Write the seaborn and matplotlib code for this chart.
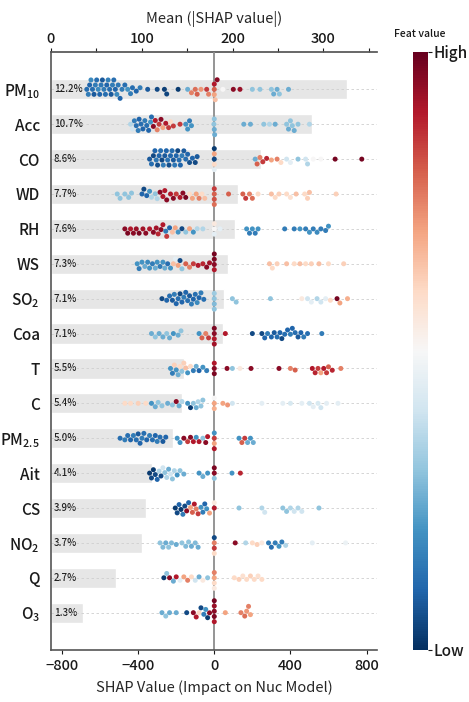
import matplotlib
matplotlib.use("Agg")
import matplotlib.pyplot as plt
import numpy as np
import pandas as pd
import seaborn as sns

# feature names (top to bottom) and their labels
features = ['PM10', 'Acc', 'CO', 'WD', 'RH', 'WS', 'SO2', 'Coa',
            'T', 'C', 'PM2.5', 'Ait', 'CS', 'NO2', 'Q', 'O3']
labels = ['PM$_{10}$', 'Acc', 'CO', 'WD', 'RH', 'WS', 'SO$_2$', 'Coa',
          'T', 'C', 'PM$_{2.5}$', 'Ait', 'CS', 'NO$_2$', 'Q', 'O$_3$']
mean_abs = [326, 287, 231, 206, 203, 195, 190, 189, 147, 144, 134, 111, 105, 100, 72, 35]
pct = ['12.2%', '10.7%', '8.6%', '7.7%', '7.6%', '7.3%', '7.1%', '7.1%',
       '5.5%', '5.4%', '5.0%', '4.1%', '3.9%', '3.7%', '2.7%', '1.3%']

# (shap value, scaled feature value)
pm10 = [(-670, .12), (-662, .15), (-655, .1), (-648, .18), (-640, .12), (-632, .08), (-625, .15),
        (-618, .12), (-610, .18), (-602, .1), (-595, .14), (-588, .08), (-580, .15), (-572, .12),
        (-565, .1), (-558, .16), (-550, .12), (-542, .08), (-535, .15), (-528, .12), (-520, .1),
        (-512, .18), (-505, .14), (-495, .1), (-485, .15), (-470, .12), (-455, .2), (-440, .15),
        (-430, .12), (-410, .1), (-390, .15), (-350, .08), (-300, .05), (-262, .03), (-250, .04),
        (-190, .02), (-140, .25), (-120, .75), (-100, .78), (-90, .8), (-70, .72), (-40, .85),
        (-30, .75), (0, .8), (0, .7), (0, .9), (5, .65), (15, .95), (45, .5), (100, .95),
        (135, .93), (200, .3), (240, .3), (300, .3), (312, .25), (330, .25), (342, .3), (390, .25)]
acc = [(-440, .35), (-430, .4), (-420, .15), (-410, .12), (-400, .15), (-395, .1), (-385, .12),
       (-375, .1), (-365, .15), (-355, .12), (-345, .1), (-335, .2), (-330, .12), (-320, .95),
       (-310, .9), (-300, .75), (-290, .85), (-280, .95), (-270, .7), (-255, .9), (-240, .85),
       (-230, .6), (-215, .85), (-180, .85), (-150, .2), (-140, .2), (-130, .15), (-120, .2),
       (0, .25), (0, .3), (2, .25), (-2, .3), (155, .25), (190, .25), (260, .3), (290, .35),
       (320, .25), (380, .3), (390, .25), (400, .3), (410, .3), (420, .25), (440, .3), (500, .35)]
co = [(-340, .08), (-330, .12), (-320, .05), (-312, .1), (-305, .14), (-298, .06), (-290, .1),
      (-282, .12), (-275, .05), (-268, .15), (-260, .08), (-252, .1), (-245, .13), (-238, .06),
      (-230, .1), (-222, .12), (-215, .08), (-208, .14), (-200, .1), (-192, .05), (-185, .12),
      (-178, .1), (-170, .15), (-160, .08), (-150, .12), (-140, .1), (-130, .06), (-115, .1),
      (-100, .05), (-90, .08), (0, .05), (0, .6), (0, .7), (0, .45), (0, .02), (215, .25),
      (225, .8), (240, .75), (255, .85), (275, .88), (300, .7), (330, .75), (350, .6), (380, .4),
      (400, .45), (440, .3), (480, .4), (490, .35), (520, .5), (560, .5), (635, .98), (775, .98)]
wd = [(-510, .3), (-495, .3), (-470, .3), (-450, .3), (-435, .3), (-380, .1), (-370, .05),
      (-355, .1), (-340, .2), (-330, .35), (-310, .3), (-300, .35), (-285, .95), (-270, .9),
      (-260, .9), (-250, .95), (-230, .9), (-215, .95), (-200, .85), (-180, .9), (-165, .95),
      (-150, .98), (-130, .6), (-115, .7), (-95, .7), (-80, .75), (-65, .6), (-50, .65), (0, .8),
      (0, .82), (0, .85), (0, .78), (75, .8), (150, .8), (165, .85), (185, .75), (200, .78),
      (230, .6), (300, .65), (320, .6), (340, .62), (380, .6), (400, .58), (430, .65), (475, .6),
      (490, .62), (500, .65), (640, .62)]
rh = [(-470, .95), (-455, .97), (-440, .9), (-425, .95), (-410, .93), (-395, .97), (-375, .92),
      (-360, .95), (-340, .9), (-320, .95), (-305, .92), (-295, .88), (-280, .95), (-270, .9),
      (-255, .15), (-250, .85), (-235, .1), (-220, .65), (-205, .7), (-190, .2), (-170, .05),
      (-150, .3), (-130, .7), (-110, .2), (-90, .35), (-60, .35), (0, .5), (0, .45), (0, .55),
      (30, .45), (170, .2), (185, .15), (200, .2), (215, .15), (230, .2), (370, .15), (420, .15),
      (450, .2), (480, .15), (500, .2), (520, .15), (540, .18), (560, .15), (585, .15), (600, .2)]
ws = [(-405, .2), (-395, .15), (-380, .2), (-365, .25), (-350, .18), (-340, .2), (-325, .15),
      (-310, .25), (-300, .2), (-285, .15), (-270, .2), (-260, .25), (-245, .12), (-230, .2),
      (-215, .65), (-205, .45), (-190, .7), (-180, .05), (-170, .3), (-150, .8), (-130, .75),
      (-110, .85), (-85, .9), (-60, .88), (-40, .95), (-25, .92), (0, .95), (0, .97), (0, .9),
      (0, .98), (290, .65), (305, .6), (330, .62), (380, .65), (420, .6), (450, .65), (480, .6),
      (510, .62), (550, .65), (600, .6), (680, .62)]
so2 = [(-275, .05), (-250, .1), (-235, .12), (-220, .08), (-210, .15), (-200, .1), (-190, .12),
       (-180, .05), (-170, .1), (-160, .15), (-150, .1), (-140, .12), (-130, .08), (-120, .15),
       (-110, .1), (-100, .12), (-90, .18), (-80, .1), (-70, .15), (-55, .12), (0, .3), (0, .28),
       (0, .32), (0, .3), (95, .3), (115, .3), (295, .3), (460, .55), (490, .4), (510, .45),
       (540, .35), (560, .4), (585, .45), (610, .6), (645, .98), (660, .7), (700, .68)]
coa = [(-330, .25), (-310, .3), (-290, .25), (-270, .25), (-250, .3), (-235, .25), (-215, .2),
       (-190, .25), (-175, .3), (-80, .2), (-65, .8), (-45, .75), (-30, .85), (0, .95), (0, .9),
       (0, .97), (0, .92), (58, .9), (200, .05), (250, .05), (265, .1), (280, .15), (300, .1),
       (315, .08), (330, .12), (345, .1), (355, .05), (370, .12), (385, .1), (400, .15), (410, .1),
       (425, .12), (440, .08), (455, .1), (470, .15), (490, .12), (565, .15)]
t = [(-230, .2), (-220, .15), (-210, .62), (-200, .2), (-190, .25), (-180, .6), (-170, .3),
     (-160, .62), (-150, .65), (-140, .2), (-125, .6), (-110, .15), (-95, .25), (-80, .1),
     (-60, .2), (-40, .15), (0, .95), (0, .97), (0, .9), (67, .95), (95, .3), (135, .55),
     (193, .95), (340, .95), (400, .75), (425, .8), (515, .9), (530, .88), (545, .85), (560, .7),
     (575, .9), (590, .85), (600, .8), (620, .88), (665, .75)]
c = [(-470, .6), (-440, .6), (-400, .62), (-360, .6), (-330, .2), (-310, .25), (-295, .3),
     (-275, .3), (-245, .25), (-220, .3), (-200, .95), (-185, .25), (-170, .35), (-140, .2),
     (-125, .02), (-110, .3), (-95, .25), (-85, .35), (-70, .3), (-60, .3), (0, .7), (0, .68),
     (0, .5), (45, .7), (70, .72), (95, .4), (250, .45), (360, .45), (400, .42), (460, .45),
     (500, .4), (520, .45), (545, .42), (560, .4), (590, .45), (650, .45)]
pm25 = [(-495, .12), (-470, .15), (-455, .12), (-440, .1), (-425, .15), (-410, .12), (-400, .08),
        (-390, .1), (-380, .15), (-370, .12), (-355, .1), (-340, .15), (-325, .12), (-310, .1),
        (-300, .15), (-285, .12), (-270, .08), (-255, .1), (-195, .2), (-180, .2), (-160, .95),
        (-140, .85), (-125, .95), (-110, .9), (-95, .2), (-80, .9), (-60, .3), (-45, .95),
        (-35, .9), (0, .85), (0, .7), (0, .2), (0, .9), (130, .2), (145, .8), (160, .85),
        (175, .25), (190, .2), (205, .25)]
ait = [(-340, .02), (-330, .05), (-320, .02), (-310, .05), (-300, .1), (-290, .35), (-280, .05),
       (-270, .4), (-260, .3), (-250, .35), (-240, .25), (-230, .4), (-220, .3), (-210, .35),
       (-195, .2), (-180, .3), (-160, .25), (-80, .2), (-60, .25), (-35, .2), (0, .95), (0, .3),
       (0, .97), (93, .2), (137, .88)]
cs = [(-205, .02), (-195, .05), (-185, .1), (-175, .02), (-165, .15), (-155, .05), (-145, .95),
      (-135, .1), (-125, .7), (-115, .8), (-105, .9), (-95, .75), (-85, .85), (-70, .2),
      (-60, .15), (-50, .1), (-40, .2), (-25, .7), (0, .9), (0, .55), (130, .3), (250, .35),
      (265, .4), (360, .3), (380, .3), (400, .35), (420, .4), (440, .35), (460, .4), (550, .3)]
no2 = [(-285, .3), (-270, .28), (-255, .25), (-240, .3), (-225, .28), (-200, .25), (-170, .3),
       (-150, .28), (-135, .3), (-120, .25), (-100, .28), (-85, .25), (0, .75), (0, .85),
       (0, .05), (0, .6), (110, .95), (165, .35), (200, .6), (225, .62), (250, .55), (285, .15),
       (300, .12), (320, .15), (340, .2), (355, .15), (375, .35), (515, .45), (690, .47)]
q = [(-265, .02), (-250, .3), (-235, .95), (-215, .25), (-200, .9), (-180, .45), (-160, .7),
     (-140, .75), (-120, .6), (-100, .4), (-80, .25), (-60, .55), (-35, .3), (0, .7), (0, .6),
     (0, .75), (0, .55), (105, .6), (130, .62), (150, .58), (170, .6), (190, .62), (210, .6),
     (230, .58), (250, .6)]
o3 = [(-275, .25), (-255, .3), (-235, .25), (-200, .25), (-145, .05), (-110, .95), (-95, .9),
      (-80, .6), (-70, .05), (-55, .15), (-45, .2), (-35, .02), (-25, .95), (0, .95), (0, .97),
      (0, .93), (0, .9), (0, .98), (58, .7), (140, .75), (160, .78), (170, .72), (180, .75),
      (190, .7)]

points = [pm10, acc, co, wd, rh, ws, so2, coa, t, c, pm25, ait, cs, no2, q, o3]
rows = []
for name, pts in zip(features, points):
    for s, v in pts:
        rows.append((name, s, v))
df = pd.DataFrame(rows, columns=['feat', 'shap', 'val'])

sns.set_theme(style='ticks')
plt.rcParams['font.family'] = ['Noto Sans CJK JP', 'DejaVu Sans']
plt.rcParams['font.weight'] = 'medium'
plt.rcParams['mathtext.fontset'] = 'custom'
plt.rcParams['mathtext.rm'] = 'Noto Sans CJK JP:medium'
plt.rcParams['axes.unicode_minus'] = True

fig = plt.figure(figsize=(4.69, 7.02), dpi=100)
ax = fig.add_axes([51 / 469, 1 - 650 / 702, 326 / 469, 598 / 702])
ax2 = ax.twiny()
ax2.set_zorder(0)
ax.set_zorder(1)
ax.patch.set_visible(False)

# bars: mean |SHAP| on the top axis
ax2.barh(np.arange(len(features)), mean_abs, height=0.58, color='#e6e6e6', zorder=0)
for i, p in enumerate(pct):
    ax2.text(3, i, p, va='center', ha='left', fontsize=7, color='#222222')
ax2.set_xlim(0, 359)
ax2.set_xticks(np.arange(0, 351, 50))
ax2.set_xticklabels(['0', '', '100', '', '200', '', '300', ''], fontsize=10.5)
ax2.set_xlabel('Mean (|SHAP value|)', fontsize=10.5, labelpad=7)
ax2.tick_params(axis='x', length=3, width=0.8, pad=1, colors='#1a1a1a')
for sp in ['left', 'right', 'bottom']:
    ax2.spines[sp].set_visible(False)
ax2.spines['top'].set_color('#555555')

for i in range(len(features)):
    ax.axhline(i, color='#cfcfcf', lw=0.6, ls=(0, (3, 3)), zorder=0.5)
ax.axvline(0, color='#8c8c8c', lw=1.3, zorder=0.8)

sns.swarmplot(data=df, x='shap', y='feat', hue='val', order=features,
              palette='RdBu_r', hue_norm=(0, 1), size=3.6, linewidth=0,
              legend=False, ax=ax, zorder=2)

ax.set_xlim(-858, 855)
ax.set_ylim(16.07, -1.07)
ax.set_xticks([-800, -400, 0, 400, 800])
ax.set_yticks(np.arange(len(features)))
ax.set_yticklabels(labels, fontsize=11)
ax.tick_params(axis='x', labelsize=10.5, length=3, width=0.8, colors='#1a1a1a')
ax.tick_params(axis='y', length=0, pad=8, colors='#1a1a1a')
ax.set_xlabel('SHAP Value (Impact on Nuc Model)', fontsize=10.5, labelpad=5)
ax.set_ylabel('')
ax.spines['top'].set_visible(False)
ax.spines['right'].set_visible(False)
ax.spines['left'].set_color('#555555')
ax.spines['bottom'].set_color('#555555')
ax.spines['left'].set_linewidth(1.2)
ax.spines['bottom'].set_linewidth(1.2)

# colorbar
cax = fig.add_axes([413 / 469, 1 - 650 / 702, 15 / 469, 598 / 702])
sm = plt.cm.ScalarMappable(cmap='RdBu_r', norm=plt.Normalize(0, 1))
cb = fig.colorbar(sm, cax=cax)
cb.outline.set_visible(False)
cb.set_ticks([0, 1])
cb.set_ticklabels(['Low', 'High'])
cax.tick_params(labelsize=11, length=3, width=0.8, pad=1, colors='#1a1a1a')
fig.text(420 / 469, 1 - 34 / 702, 'Feat value', ha='center', va='center',
         fontsize=7.5, color='#1a1a1a')

fig.savefig('out.png', dpi=100)
